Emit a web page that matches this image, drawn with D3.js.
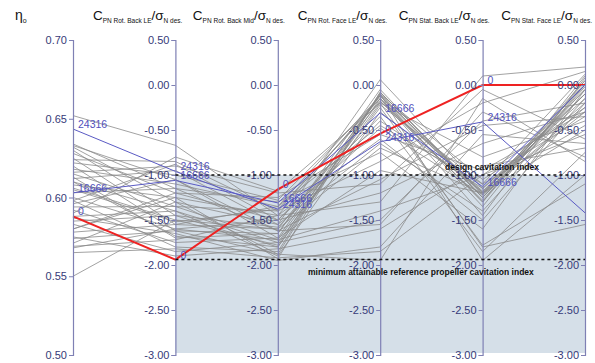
<!DOCTYPE html>
<html>
<head>
<meta charset="utf-8">
<script src="https://cdn.jsdelivr.net/npm/d3@7/dist/d3.min.js"></script>
<style>
  html, body { margin: 0; padding: 0; background: #fff; }
  svg { display: block; font-family: Arial, "Liberation Sans", sans-serif; }
</style>
</head>
<body>
<svg id="chart" width="595" height="363"></svg>
<script>
// Design identifiers; only highlighted designs carry a label
const designIds = [
  "0", "24316", "16666",
  "g1","g2","g3","g4","g5","g6","g7","g8","g9","g10","g11","g12","g13","g14",
  "g15","g16","g17","g18","g19","g20","g21","g22","g23","g24","g25","g26","g27",
  "g28","g29","g30","g31","g32","g33","g34","g35","g36","g37","g38","g39","g40","g41","g42"
];
const highlighted = ["0", "24316", "16666"];

// Open-water efficiency
const etaO = [
  0.588, 0.6435, 0.603,
  0.652, 0.633, 0.632, 0.630, 0.628, 0.625, 0.624, 0.620, 0.618, 0.616, 0.615, 0.613, 0.612, 0.610,
  0.608, 0.606, 0.603, 0.600, 0.598, 0.596, 0.594, 0.592, 0.590, 0.587, 0.585, 0.583, 0.580,
  0.578, 0.575, 0.574, 0.571, 0.569, 0.568, 0.565, 0.550, 0.622, 0.634, 0.610, 0.598, 0.588, 0.605, 0.580
];
// Normalised minimum pressure coefficients per blade region
const rotBackLE = [
  -1.94, -0.96, -1.06,
  -0.67, -1.05, -1.30, -1.45, -1.20, -1.55, -0.85, -1.62, -1.10, -0.90, -1.35, -1.70, -0.95, -1.40,
  -1.25, -1.50, -1.15, -1.60, -1.80, -1.05, -1.35, -1.75, -0.80, -1.65, -1.45, -1.85, -1.20,
  -1.55, -1.90, -1.62, -1.30, -1.72, -1.60, -1.82, -1.50, -1.00, -1.15, -1.68, -0.88, -1.40, -1.52, -1.25
];
const rotBackMid = [
  -1.16, -1.38, -1.31,
  -1.45, -1.70, -1.55, -1.80, -1.25, -1.60, -1.40, -1.88, -1.35, -1.20, -1.72, -1.65, -1.55, -1.90,
  -1.45, -1.78, -1.30, -1.50, -1.85, -1.62, -1.40, -1.70, -1.18, -1.95, -1.58, -1.75, -1.50,
  -1.35, -1.82, -1.65, -1.88, -1.45, -1.72, -1.92, -1.60, -1.28, -1.62, -1.80, -1.50, -1.75, -1.38, -1.93
];
const rotFaceLE = [
  -0.54, -0.63, -0.31,
  -0.12, -0.10, 0.06, -0.15, -0.55, -0.18, -0.85, -0.08, -0.45, -1.10, -0.20, -0.12, -0.65, -0.30,
  -1.30, -0.10, -0.75, -0.48, -0.10, -1.55, -0.15, -0.95, -0.20, -1.80, -0.40, -0.25, -1.20,
  -0.12, -1.60, -0.05, -1.95, -0.60, -1.40, -1.85, -0.70, -0.15, -1.05, -0.22, -0.35, -1.50, -0.18, -0.08
];
const statBackLE = [
  0.00, -0.41, -1.13,
  -1.20, -1.25, -1.15, -1.30, -0.95, -1.18, -0.20, -1.22, -1.10, -0.05, -1.80, -1.25, -1.40, -1.19,
  0.10, -1.05, -1.60, -1.22, -1.95, -0.30, -1.30, -1.20, -0.80, -0.55, -1.15, -1.78, -0.65,
  -1.35, -0.90, -1.25, -0.15, -1.50, -1.00, -1.00, -1.20, -1.45, -0.45, -1.10, -1.85, -0.40, -1.28, -1.20
];
const statFaceLE = [
  0.00, -1.42, 0.00,
  -0.05, 0.02, -0.10, 0.00, -0.30, -0.20, 0.15, 0.05, -0.45, -0.60, -1.55, -0.10, -0.15, 0.00,
  0.20, -0.35, -0.05, -0.25, -1.00, -0.80, 0.10, -0.50, -0.40, -0.65, -0.15, -1.10, -0.30,
  0.05, -0.70, -0.05, -0.85, -0.20, -0.55, -0.25, -0.10, 0.08, -0.35, 0.12, -0.75, -0.20, -0.02, -0.30
];

const etaTicks = [0.50, 0.55, 0.60, 0.65, 0.70];
const cpTicks = [0.50, 0.00, -0.50, -1.00, -1.50, -2.00, -2.50, -3.00];
const designCavIndex = -1.00;
const minRefCavIndex = -1.94;

const dims = [
  { key: "eta", values: etaO, domain: [0.50, 0.70], ticks: etaTicks, sub1: null },
  { key: "rbl", values: rotBackLE, domain: [-3, 0.5], ticks: cpTicks, sub1: "PN Rot. Back LE" },
  { key: "rbm", values: rotBackMid, domain: [-3, 0.5], ticks: cpTicks, sub1: "PN Rot. Back Mid" },
  { key: "rfl", values: rotFaceLE, domain: [-3, 0.5], ticks: cpTicks, sub1: "PN Rot. Face LE" },
  { key: "sbl", values: statBackLE, domain: [-3, 0.5], ticks: cpTicks, sub1: "PN Stat. Back LE" },
  { key: "sfl", values: statFaceLE, domain: [-3, 0.5], ticks: cpTicks, sub1: "PN Stat. Face LE" }
];

const svg = d3.select("#chart");
const plotTop = 40, plotBottom = 355;

const x = d3.scalePoint().domain(dims.map(d => d.key)).range([73, 585]);
const yScales = {};
dims.forEach(d => { yScales[d.key] = d3.scaleLinear().domain(d.domain).range([plotBottom, plotTop]); });
const yCp = yScales.rbl;

// Region below the design cavitation index
svg.append("rect")
  .attr("x", x("rbl")).attr("y", yCp(designCavIndex))
  .attr("width", x("sfl") - x("rbl"))
  .attr("height", yCp(-3) - yCp(designCavIndex) - 2)
  .attr("fill", "#d5dfe8");

// Polylines
const rows = designIds.map((id, i) => ({ id, vals: dims.map(d => d.values[i]) }));
const line = d3.line();
const path = r => line(dims.map((d, j) => [x(d.key), yScales[d.key](r.vals[j])]));

const gLines = svg.append("g");
gLines.selectAll("path.bg")
  .data(rows.filter(r => !highlighted.includes(r.id)))
  .join("path")
  .attr("d", path)
  .attr("fill", "none")
  .attr("stroke", "#8a8a8a")
  .attr("stroke-width", 0.8);

const hiColor = { "0": "#ee2222", "24316": "#5a5ac4", "16666": "#5a5ac4" };
const hiRows = ["24316", "16666", "0"].map(id => rows.find(r => r.id === id));
gLines.selectAll("path.hi")
  .data(hiRows)
  .join("path")
  .attr("d", path)
  .attr("fill", "none")
  .attr("stroke", r => hiColor[r.id])
  .attr("stroke-width", r => r.id === "0" ? 2 : 1);

// Axes
dims.forEach(d => {
  const ax = d3.axisLeft(yScales[d.key])
    .tickValues(d.ticks)
    .tickFormat(v => d3.format(".2f")(v).replace("\u2212", "-"))
    .tickSize(4)
    .tickPadding(2);
  const g = svg.append("g").attr("transform", `translate(${x(d.key)},0)`).call(ax);
  g.select(".domain").attr("stroke", "#7f80b4").attr("stroke-width", 1.2);
  g.selectAll(".tick line").attr("stroke", "#7f80b4");
  g.selectAll(".tick text")
    .attr("fill", "#363a78")
    .attr("font-size", 11);
});

// Reference cavitation index lines
[designCavIndex, minRefCavIndex].forEach(v => {
  svg.append("line")
    .attr("x1", x("rbl")).attr("x2", x("sfl"))
    .attr("y1", yCp(v)).attr("y2", yCp(v))
    .attr("stroke", "#111").attr("stroke-width", 1.5)
    .attr("stroke-dasharray", "3,3");
});
svg.append("text")
  .attr("x", 445).attr("y", yCp(designCavIndex) - 5)
  .attr("font-size", 8.5).attr("font-weight", "bold").attr("fill", "#111")
  .text("design cavitation index");
svg.append("text")
  .attr("x", 308).attr("y", yCp(minRefCavIndex) + 15)
  .attr("font-size", 8.5).attr("font-weight", "bold").attr("fill", "#111")
  .text("minimum attainable reference propeller cavitation index");

// Labels for highlighted designs (the last axis sits at the right edge, so it carries none)
hiRows.forEach(r => {
  dims.slice(0, -1).forEach((d, j) => {
    svg.append("text")
      .attr("x", x(d.key) + 5)
      .attr("y", yScales[d.key](r.vals[j]) - 1)
      .attr("font-size", 10.5)
      .attr("fill", "#5151bd")
      .text(r.id);
  });
});

// Axis titles
svg.append("text").attr("x", 15).attr("y", 20).attr("font-size", 14).attr("fill", "#111")
  .call(t => {
    t.append("tspan").text("\u03b7");
    t.append("tspan").attr("font-size", 7).attr("dy", 3).text("o");
  });
dims.filter(d => d.sub1).forEach(d => {
  const t = svg.append("text")
    .attr("x", x(d.key) + 7).attr("y", 20)
    .attr("text-anchor", "end")
    .attr("font-size", 13.5).attr("fill", "#111");
  t.append("tspan").text("C");
  t.append("tspan").attr("font-size", 6.5).attr("dy", 3).text(d.sub1);
  t.append("tspan").attr("dy", -3).text("/\u03c3");
  t.append("tspan").attr("font-size", 6.5).attr("dy", 3).text("N des.");
});
</script>
</body>
</html>
